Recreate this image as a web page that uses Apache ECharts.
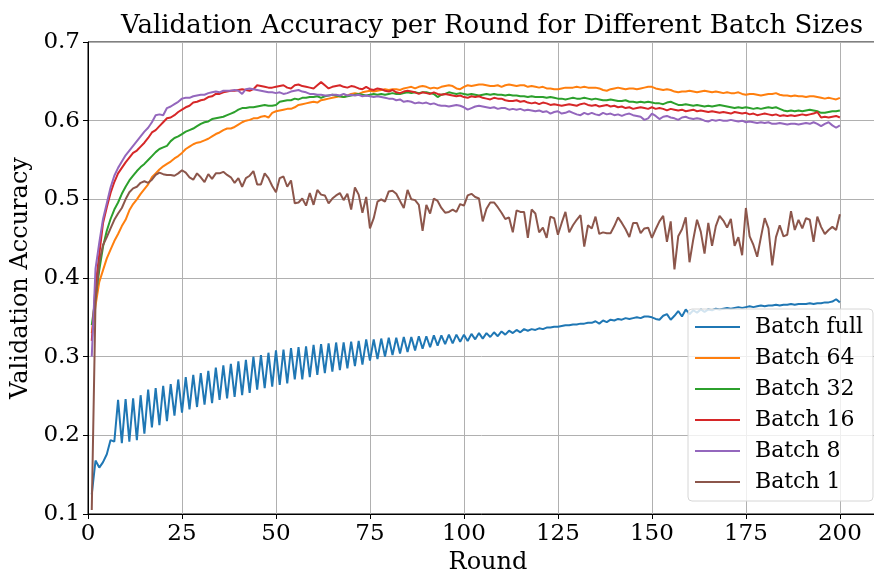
<!DOCTYPE html>
<html>
<head>
<meta charset="utf-8">
<script src="https://cdn.jsdelivr.net/npm/echarts@6/dist/echarts.min.js"></script>
<style>
  html, body { margin: 0; padding: 0; background: #fff; }
  #chart { width: 874px; height: 574px; }
</style>
</head>
<body>
<div id="chart"></div>
<script>
// rounds 1..200 (x positions)
const rounds = Array.from({ length: 200 }, (_, i) => i + 1);

const batchFull = [
  0.125, 0.168, 0.159, 0.166, 0.176, 0.194, 0.192, 0.245, 0.190, 0.246,
  0.192, 0.247, 0.194, 0.251, 0.202, 0.258, 0.210, 0.260, 0.213, 0.263,
  0.218, 0.265, 0.225, 0.271, 0.229, 0.274, 0.233, 0.277, 0.236, 0.279,
  0.239, 0.282, 0.241, 0.286, 0.245, 0.289, 0.247, 0.291, 0.249, 0.294,
  0.251, 0.296, 0.254, 0.300, 0.258, 0.302, 0.260, 0.305, 0.262, 0.308,
  0.264, 0.309, 0.266, 0.311, 0.271, 0.312, 0.271, 0.313, 0.274, 0.315,
  0.277, 0.316, 0.279, 0.317, 0.281, 0.318, 0.283, 0.318, 0.285, 0.319,
  0.288, 0.320, 0.290, 0.322, 0.295, 0.322, 0.297, 0.323, 0.300, 0.324,
  0.302, 0.324, 0.304, 0.325, 0.306, 0.325, 0.308, 0.326, 0.310, 0.326,
  0.312, 0.327, 0.314, 0.327, 0.316, 0.328, 0.317, 0.328, 0.319, 0.328,
  0.320, 0.329, 0.322, 0.330, 0.323, 0.330, 0.325, 0.331, 0.326, 0.332,
  0.328, 0.333, 0.330, 0.334, 0.331, 0.335, 0.333, 0.335, 0.334, 0.336,
  0.335, 0.337, 0.337, 0.338, 0.338, 0.339, 0.340, 0.340, 0.341, 0.341,
  0.342, 0.342, 0.343, 0.343, 0.345, 0.342, 0.346, 0.344, 0.347, 0.346,
  0.348, 0.347, 0.349, 0.348, 0.349, 0.350, 0.349, 0.351, 0.351, 0.350,
  0.348, 0.347, 0.352, 0.354, 0.347, 0.352, 0.358, 0.351, 0.360, 0.354,
  0.359, 0.356, 0.360, 0.357, 0.360, 0.359, 0.361, 0.360, 0.361, 0.362,
  0.361, 0.362, 0.363, 0.362, 0.363, 0.364, 0.363, 0.364, 0.365, 0.364,
  0.365, 0.365, 0.366, 0.365, 0.366, 0.366, 0.367, 0.366, 0.367, 0.367,
  0.367, 0.368, 0.367, 0.368, 0.368, 0.369, 0.369, 0.370, 0.373, 0.369
];

const batch64 = [
  0.330, 0.365, 0.395, 0.410, 0.425, 0.436, 0.447, 0.456, 0.466, 0.474,
  0.486, 0.494, 0.500, 0.507, 0.513, 0.519, 0.528, 0.533, 0.538, 0.542,
  0.545, 0.548, 0.552, 0.555, 0.559, 0.564, 0.567, 0.570, 0.572, 0.573,
  0.575, 0.577, 0.580, 0.583, 0.585, 0.588, 0.590, 0.590, 0.592, 0.595,
  0.598, 0.600, 0.601, 0.603, 0.603, 0.605, 0.606, 0.604, 0.610, 0.612,
  0.613, 0.614, 0.615, 0.615, 0.617, 0.620, 0.621, 0.622, 0.623, 0.624,
  0.623, 0.626, 0.627, 0.628, 0.629, 0.630, 0.631, 0.630, 0.632, 0.634,
  0.635, 0.634, 0.636, 0.637, 0.638, 0.637, 0.638, 0.639, 0.640, 0.639,
  0.640, 0.640, 0.639, 0.641, 0.642, 0.643, 0.641, 0.643, 0.644, 0.643,
  0.641, 0.642, 0.641, 0.643, 0.644, 0.645, 0.644, 0.641, 0.640, 0.643,
  0.645, 0.644, 0.645, 0.646, 0.646, 0.645, 0.644, 0.644, 0.645, 0.643,
  0.645, 0.646, 0.645, 0.644, 0.645, 0.645, 0.643, 0.644, 0.643, 0.642,
  0.643, 0.641, 0.641, 0.640, 0.640, 0.641, 0.642, 0.642, 0.642, 0.643,
  0.642, 0.643, 0.642, 0.642, 0.642, 0.641, 0.639, 0.638, 0.640, 0.641,
  0.642, 0.641, 0.640, 0.641, 0.641, 0.640, 0.641, 0.642, 0.643, 0.643,
  0.641, 0.640, 0.639, 0.640, 0.639, 0.637, 0.636, 0.637, 0.637, 0.638,
  0.637, 0.636, 0.637, 0.638, 0.637, 0.636, 0.637, 0.636, 0.635, 0.636,
  0.635, 0.635, 0.636, 0.634, 0.633, 0.634, 0.634, 0.633, 0.632, 0.633,
  0.634, 0.634, 0.635, 0.633, 0.632, 0.632, 0.631, 0.632, 0.631, 0.631,
  0.630, 0.631, 0.631, 0.630, 0.629, 0.628, 0.629, 0.628, 0.627, 0.629
];

const batch32 = [
  0.340, 0.375, 0.410, 0.440, 0.460, 0.475, 0.487, 0.496, 0.507, 0.516,
  0.524, 0.530, 0.536, 0.541, 0.545, 0.550, 0.555, 0.560, 0.564, 0.566,
  0.568, 0.574, 0.578, 0.580, 0.583, 0.586, 0.588, 0.590, 0.593, 0.596,
  0.598, 0.599, 0.602, 0.603, 0.604, 0.605, 0.607, 0.609, 0.611, 0.614,
  0.616, 0.616, 0.617, 0.617, 0.618, 0.619, 0.620, 0.619, 0.619, 0.620,
  0.624, 0.625, 0.626, 0.626, 0.628, 0.627, 0.629, 0.629, 0.630, 0.630,
  0.631, 0.629, 0.631, 0.632, 0.633, 0.632, 0.631, 0.630, 0.631, 0.632,
  0.633, 0.634, 0.633, 0.632, 0.633, 0.634, 0.633, 0.634, 0.633, 0.634,
  0.635, 0.634, 0.634, 0.635, 0.636, 0.635, 0.636, 0.635, 0.636, 0.636,
  0.635, 0.634, 0.630, 0.633, 0.634, 0.636, 0.635, 0.634, 0.635, 0.634,
  0.633, 0.634, 0.633, 0.632, 0.633, 0.634, 0.633, 0.634, 0.633, 0.633,
  0.632, 0.633, 0.632, 0.632, 0.631, 0.631, 0.630, 0.631, 0.630, 0.630,
  0.630, 0.629, 0.630, 0.629, 0.628, 0.628, 0.627, 0.628, 0.629, 0.628,
  0.628, 0.629, 0.628, 0.627, 0.628, 0.627, 0.626, 0.626, 0.627, 0.626,
  0.625, 0.625, 0.626, 0.624, 0.624, 0.623, 0.624, 0.623, 0.624, 0.623,
  0.622, 0.622, 0.621, 0.623, 0.624, 0.622, 0.620, 0.620, 0.621, 0.620,
  0.619, 0.620, 0.619, 0.618, 0.619, 0.618, 0.619, 0.620, 0.619, 0.618,
  0.617, 0.616, 0.617, 0.616, 0.617, 0.616, 0.615, 0.616, 0.615, 0.616,
  0.617, 0.616, 0.617, 0.615, 0.613, 0.612, 0.613, 0.612, 0.613, 0.612,
  0.613, 0.614, 0.613, 0.612, 0.610, 0.610, 0.611, 0.612, 0.612, 0.613
];

const batch16 = [
  0.320, 0.390, 0.430, 0.470, 0.490, 0.508, 0.522, 0.533, 0.540, 0.547,
  0.553, 0.559, 0.562, 0.567, 0.572, 0.578, 0.585, 0.588, 0.593, 0.598,
  0.603, 0.604, 0.607, 0.611, 0.614, 0.617, 0.619, 0.623, 0.624, 0.626,
  0.627, 0.630, 0.631, 0.634, 0.634, 0.636, 0.637, 0.638, 0.638, 0.639,
  0.640, 0.639, 0.638, 0.640, 0.645, 0.644, 0.643, 0.642, 0.642, 0.643,
  0.644, 0.645, 0.642, 0.641, 0.645, 0.646, 0.644, 0.643, 0.642, 0.641,
  0.645, 0.649, 0.645, 0.641, 0.643, 0.644, 0.645, 0.643, 0.642, 0.644,
  0.643, 0.641, 0.640, 0.643, 0.640, 0.639, 0.641, 0.640, 0.638, 0.637,
  0.639, 0.636, 0.635, 0.637, 0.638, 0.637, 0.636, 0.634, 0.636, 0.635,
  0.634, 0.636, 0.634, 0.633, 0.634, 0.633, 0.632, 0.631, 0.632, 0.630,
  0.629, 0.631, 0.630, 0.631, 0.629, 0.628, 0.627, 0.629, 0.628, 0.628,
  0.626, 0.625, 0.625, 0.626, 0.624, 0.625, 0.623, 0.622, 0.623, 0.621,
  0.623, 0.622, 0.620, 0.621, 0.620, 0.619, 0.620, 0.621, 0.620, 0.619,
  0.621, 0.622, 0.620, 0.619, 0.620, 0.618, 0.619, 0.620, 0.618, 0.619,
  0.617, 0.618, 0.616, 0.617, 0.615, 0.616, 0.617, 0.616, 0.615, 0.617,
  0.615, 0.616, 0.615, 0.613, 0.615, 0.614, 0.613, 0.614, 0.612, 0.613,
  0.614, 0.612, 0.613, 0.612, 0.611, 0.612, 0.611, 0.610, 0.611, 0.610,
  0.609, 0.611, 0.610, 0.609, 0.610, 0.608, 0.609, 0.607, 0.608, 0.609,
  0.608, 0.607, 0.608, 0.606, 0.607, 0.606, 0.607, 0.606, 0.607, 0.608,
  0.607, 0.608, 0.609, 0.611, 0.604, 0.605, 0.604, 0.605, 0.606, 0.604
];

const batch8 = [
  0.300, 0.412, 0.445, 0.475, 0.495, 0.515, 0.530, 0.540, 0.548, 0.556,
  0.562, 0.568, 0.574, 0.580, 0.586, 0.591, 0.598, 0.607, 0.608, 0.607,
  0.616, 0.618, 0.621, 0.624, 0.628, 0.629, 0.629, 0.631, 0.632, 0.633,
  0.633, 0.635, 0.636, 0.637, 0.636, 0.638, 0.638, 0.638, 0.639, 0.638,
  0.634, 0.640, 0.641, 0.640, 0.639, 0.638, 0.637, 0.636, 0.636, 0.635,
  0.636, 0.634, 0.635, 0.637, 0.638, 0.639, 0.637, 0.636, 0.634, 0.634,
  0.633, 0.633, 0.632, 0.632, 0.633, 0.633, 0.632, 0.634, 0.632, 0.633,
  0.632, 0.633, 0.631, 0.632, 0.631, 0.630, 0.631, 0.630, 0.629, 0.628,
  0.628, 0.626, 0.627, 0.624, 0.625, 0.624, 0.622, 0.623, 0.622, 0.623,
  0.621, 0.622, 0.620, 0.619, 0.619, 0.618, 0.619, 0.620, 0.619, 0.617,
  0.614, 0.616, 0.618, 0.619, 0.618, 0.617, 0.616, 0.617, 0.615, 0.616,
  0.616, 0.614, 0.615, 0.614, 0.615, 0.613, 0.614, 0.613, 0.612, 0.613,
  0.611, 0.612, 0.609, 0.611, 0.612, 0.609, 0.610, 0.612, 0.610, 0.608,
  0.607, 0.610, 0.608, 0.610, 0.608, 0.607, 0.610, 0.608, 0.609, 0.607,
  0.608, 0.606, 0.608, 0.609, 0.607, 0.606, 0.605, 0.601, 0.603, 0.609,
  0.606, 0.602, 0.605, 0.606, 0.604, 0.603, 0.601, 0.604, 0.605, 0.603,
  0.602, 0.603, 0.602, 0.600, 0.599, 0.601, 0.600, 0.601, 0.600, 0.600,
  0.601, 0.600, 0.599, 0.600, 0.598, 0.599, 0.598, 0.597, 0.598, 0.597,
  0.598, 0.596, 0.596, 0.597, 0.596, 0.595, 0.596, 0.596, 0.595, 0.596,
  0.597, 0.596, 0.598, 0.596, 0.593, 0.596, 0.598, 0.594, 0.591, 0.594
];

const batch1 = [
  0.105, 0.370, 0.420, 0.442, 0.452, 0.463, 0.474, 0.482, 0.489, 0.500,
  0.509, 0.514, 0.516, 0.521, 0.523, 0.521, 0.525, 0.531, 0.534, 0.532,
  0.531, 0.531, 0.530, 0.533, 0.537, 0.534, 0.528, 0.525, 0.533, 0.528,
  0.522, 0.532, 0.526, 0.533, 0.533, 0.535, 0.531, 0.528, 0.521, 0.527,
  0.516, 0.527, 0.530, 0.536, 0.519, 0.519, 0.533, 0.527, 0.517, 0.509,
  0.527, 0.529, 0.516, 0.524, 0.495, 0.496, 0.501, 0.492, 0.508, 0.493,
  0.512, 0.506, 0.505, 0.495, 0.501, 0.505, 0.508, 0.499, 0.507, 0.487,
  0.515, 0.506, 0.483, 0.503, 0.463, 0.476, 0.497, 0.500, 0.497, 0.510,
  0.511, 0.507, 0.498, 0.489, 0.512, 0.500, 0.499, 0.493, 0.460, 0.493,
  0.482, 0.501, 0.498, 0.489, 0.483, 0.484, 0.487, 0.484, 0.494, 0.492,
  0.505, 0.507, 0.503, 0.501, 0.472, 0.488, 0.496, 0.496, 0.490, 0.483,
  0.475, 0.477, 0.458, 0.486, 0.484, 0.484, 0.451, 0.487, 0.482, 0.458,
  0.464, 0.451, 0.478, 0.476, 0.455, 0.470, 0.484, 0.458, 0.467, 0.474,
  0.480, 0.440, 0.467, 0.463, 0.478, 0.456, 0.458, 0.457, 0.457, 0.466,
  0.477, 0.470, 0.462, 0.452, 0.470, 0.470, 0.457, 0.463, 0.464, 0.451,
  0.462, 0.472, 0.479, 0.446, 0.472, 0.411, 0.453, 0.462, 0.477, 0.420,
  0.449, 0.474, 0.459, 0.431, 0.470, 0.441, 0.466, 0.479, 0.473, 0.464,
  0.475, 0.441, 0.452, 0.429, 0.489, 0.453, 0.442, 0.427, 0.452, 0.476,
  0.463, 0.416, 0.452, 0.467, 0.453, 0.455, 0.485, 0.461, 0.474, 0.463,
  0.476, 0.474, 0.446, 0.478, 0.465, 0.456, 0.461, 0.465, 0.461, 0.481
];

const seriesNames = ['Batch full', 'Batch 64', 'Batch 32', 'Batch 16', 'Batch 8', 'Batch 1'];
const seriesValues = [batchFull, batch64, batch32, batch16, batch8, batch1];
const colors = ['#1f77b4', '#ff7f0e', '#2ca02c', '#d62728', '#9467bd', '#8c564b'];
const xTicks = [0, 25, 50, 75, 100, 125, 150, 175, 200];

const font = 'DejaVu Serif';
const chart = echarts.init(document.getElementById('chart'));

chart.setOption({
  animation: false,
  color: colors,
  title: {
    text: 'Validation Accuracy per Round for Different Batch Sizes',
    left: 487,
    textAlign: 'center',
    top: 8,
    textStyle: { fontFamily: font, fontSize: 26, fontWeight: 'normal', color: '#000' }
  },
  legend: {
    data: seriesNames,
    orient: 'vertical',
    left: 688,
    top: 309,
    icon: 'rect',
    itemWidth: 45,
    itemHeight: 2,
    itemGap: 9,
    padding: [7, 10, 8, 7],
    backgroundColor: 'rgba(255,255,255,0.8)',
    borderColor: '#d6d6d6',
    borderWidth: 1,
    borderRadius: 4,
    textStyle: { fontFamily: font, fontSize: 22, color: '#000', lineHeight: 22, padding: [0, 0, 0, 10] }
  },
  grid: {
    left: 88,
    top: 42,
    width: 800,
    bottom: 60,
    outerBoundsMode: 'none',
    containLabel: false,
    show: true,
    borderColor: '#000',
    borderWidth: 1
  },
  xAxis: {
    type: 'value',
    min: 0,
    max: 212.8,
    interval: 25,
    name: 'Round',
    nameLocation: 'middle',
    nameGap: 33,
    nameTextStyle: { fontFamily: font, fontSize: 24, color: '#000' },
    axisLine: { show: true, lineStyle: { color: '#000', width: 1 } },
    axisTick: { show: true, length: 5, lineStyle: { color: '#000' } },
    axisLabel: {
      fontFamily: font, fontSize: 23, color: '#000', margin: 9,
      formatter: v => (xTicks.indexOf(v) >= 0 ? String(v) : '')
    },
    splitLine: { show: true, lineStyle: { color: '#b0b0b0', width: 1 } }
  },
  yAxis: {
    type: 'value',
    min: 0.1,
    max: 0.7,
    interval: 0.1,
    name: 'Validation Accuracy',
    nameLocation: 'middle',
    nameGap: 52,
    nameTextStyle: { fontFamily: font, fontSize: 24, color: '#000' },
    axisLine: { show: true, lineStyle: { color: '#000', width: 1 } },
    axisTick: { show: true, length: 5, lineStyle: { color: '#000' } },
    axisLabel: {
      fontFamily: font, fontSize: 23, color: '#000', margin: 8,
      formatter: v => v.toFixed(1)
    },
    splitLine: { show: true, lineStyle: { color: '#b0b0b0', width: 1 } }
  },
  series: seriesNames.map((name, k) => ({
    name: name,
    type: 'line',
    symbol: 'none',
    lineStyle: { width: 2 },
    data: rounds.map((r, i) => [r, seriesValues[k][i]])
  }))
});
</script>
</body>
</html>
